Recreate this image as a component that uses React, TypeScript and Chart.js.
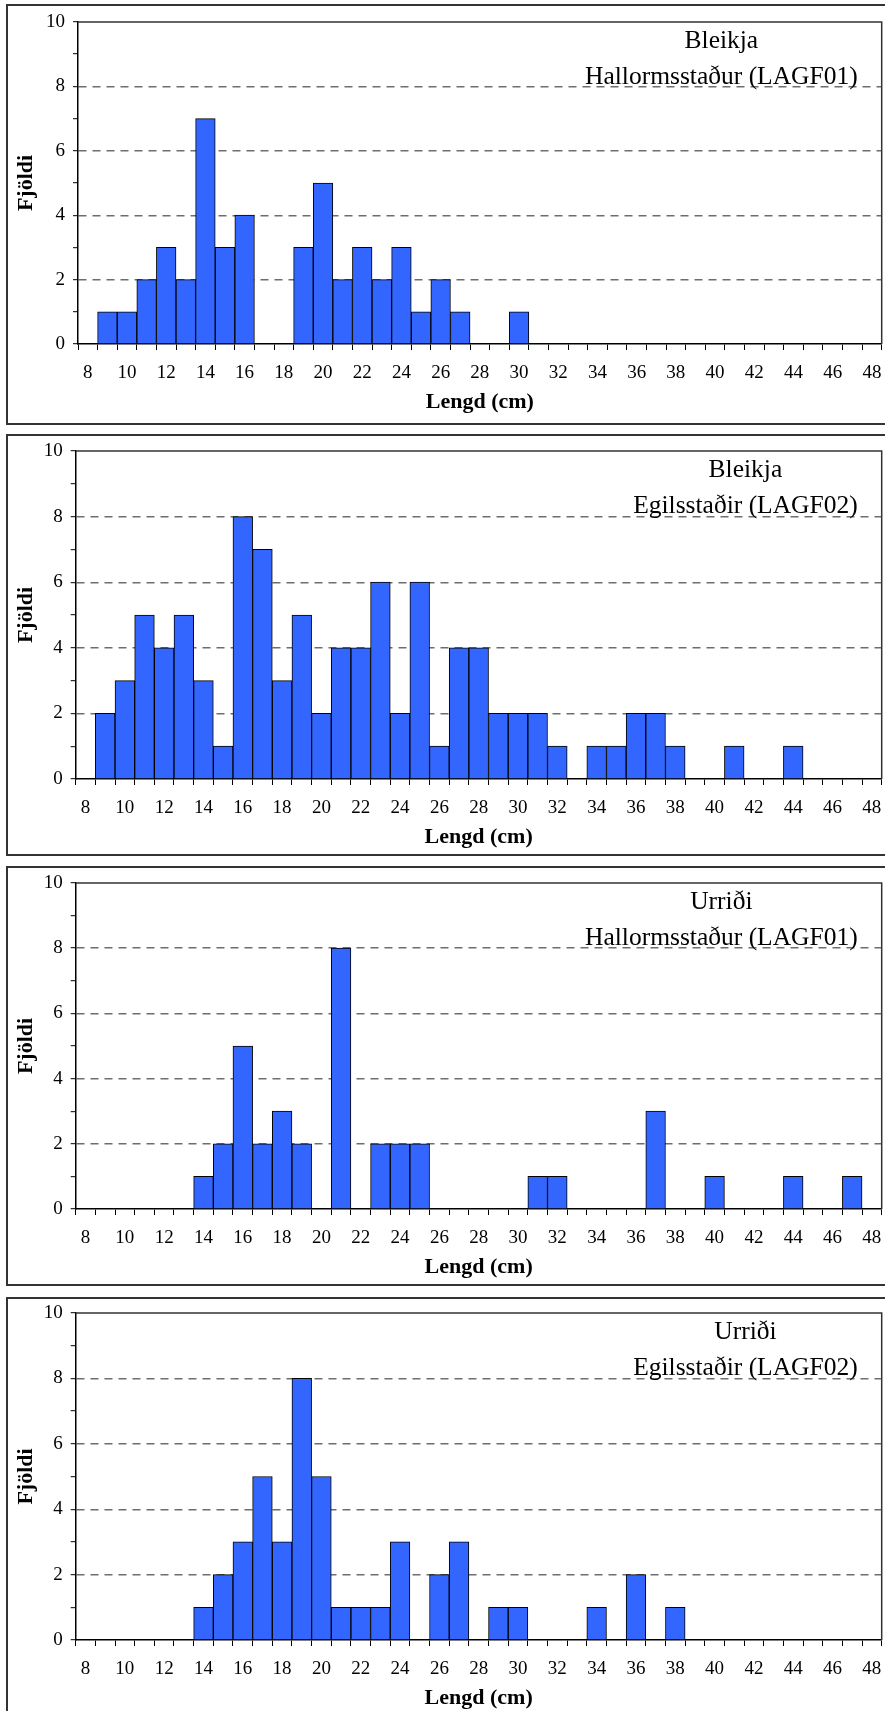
import React, { useEffect, useRef } from 'react';
import { Chart, registerables } from 'chart.js';

Chart.register(...registerables);

// ---- data ----
const lengthCategories = [
  '8', '9', '10', '11', '12', '13', '14', '15', '16', '17', '18', '19', '20', '21',
  '22', '23', '24', '25', '26', '27', '28', '29', '30', '31', '32', '33', '34', '35',
  '36', '37', '38', '39', '40', '41', '42', '43', '44', '45', '46', '47', '48',
];

// counts per length class (8 ... 48 cm)
const bleikjaHallormsstadur = [
  0, 1, 1, 2, 3, 2, 7, 3, 4, 0, 0, 3, 5, 2, 3, 2, 3, 1, 2, 1, 0, 0, 1,
  0, 0, 0, 0, 0, 0, 0, 0, 0, 0, 0, 0, 0, 0, 0, 0, 0, 0,
];
const bleikjaEgilsstadir = [
  0, 2, 3, 5, 4, 5, 3, 1, 8, 7, 3, 5, 2, 4, 4, 6, 2, 6, 1, 4, 4, 2, 2,
  2, 1, 0, 1, 1, 2, 2, 1, 0, 0, 1, 0, 0, 1, 0, 0, 0, 0,
];
const urridiHallormsstadur = [
  0, 0, 0, 0, 0, 0, 1, 2, 5, 2, 3, 2, 0, 8, 0, 2, 2, 2, 0, 0, 0, 0, 0,
  1, 1, 0, 0, 0, 0, 3, 0, 0, 1, 0, 0, 0, 1, 0, 0, 1, 0,
];
const urridiEgilsstadir = [
  0, 0, 0, 0, 0, 0, 1, 2, 3, 5, 3, 8, 5, 1, 1, 1, 3, 0, 2, 3, 0, 1, 1,
  0, 0, 0, 1, 0, 2, 0, 1, 0, 0, 0, 0, 0, 0, 0, 0, 0, 0,
];

const speciesNames = ['Bleikja', 'Bleikja', 'Urriði', 'Urriði'];
const siteNames = [
  'Hallormsstaður (LAGF01)',
  'Egilsstaðir (LAGF02)',
  'Hallormsstaður (LAGF01)',
  'Egilsstaðir (LAGF02)',
];
const seriesValues = [bleikjaHallormsstadur, bleikjaEgilsstadir, urridiHallormsstadur, urridiEgilsstadir];

const xAxisTitle = 'Lengd (cm)';
const yAxisTitle = 'Fjöldi';

// ---- layout (page pixels) ----
const PAGE_W = 885;
const PLOT_RIGHT = 881.7;
const TOP_PAD = 16;
const X_AXIS_H = 80;
const panelLayouts = [
  { boxTop: 4, boxHeight: 421, plotTop: 21.7, plotBottom: 344, plotLeft: 78 },
  { boxTop: 434.3, boxHeight: 421.4, plotTop: 450.7, plotBottom: 778.3, plotLeft: 75.7 },
  { boxTop: 866, boxHeight: 420, plotTop: 882.7, plotBottom: 1209, plotLeft: 75.7 },
  { boxTop: 1296.7, boxHeight: 421, plotTop: 1313.3, plotBottom: 1640, plotLeft: 75.7 },
];

const SERIF = '"Liberation Serif", "Times New Roman", Times, serif';
const BAR_BLUE = '#3366FF';

const decorPlugin = {
  id: 'panelDecor',
  afterDatasetsDraw(chart: any, _args: any, opts: any) {
    const { ctx, chartArea: a } = chart;
    ctx.save();
    ctx.strokeStyle = '#333';
    ctx.lineWidth = 1.5;
    ctx.beginPath();
    ctx.moveTo(a.left, a.top);
    ctx.lineTo(a.right, a.top);
    ctx.lineTo(a.right, a.bottom);
    ctx.stroke();

    const lines: string[] = opts.lines || [];
    ctx.font = `25.5px ${SERIF}`;
    ctx.fillStyle = '#000';
    ctx.textAlign = 'center';
    ctx.textBaseline = 'alphabetic';
    const w = ctx.measureText(lines[1] || '').width;
    const cx = a.right - 24 - w / 2;
    if (lines[0]) ctx.fillText(lines[0], cx, a.top + 26);
    if (lines[1]) ctx.fillText(lines[1], cx, a.top + 61.5);
    ctx.restore();
  },
};

type PanelProps = { index: number };

function Histogram({ index }: PanelProps) {
  const ref = useRef<HTMLCanvasElement>(null);
  const lay = panelLayouts[index];
  const canvasTop = lay.plotTop - TOP_PAD;
  const canvasHeight = Math.round(TOP_PAD + (lay.plotBottom - lay.plotTop) + X_AXIS_H);

  useEffect(() => {
    if (!ref.current) return;
    const chart = new Chart(ref.current, {
      type: 'bar',
      data: {
        labels: lengthCategories,
        datasets: [
          {
            data: seriesValues[index],
            backgroundColor: BAR_BLUE,
            borderColor: '#000',
            borderWidth: 1,
            barPercentage: 1,
            categoryPercentage: 1,
          },
        ],
      },
      options: {
        responsive: false,
        animation: false,
        devicePixelRatio: 1,
        layout: { padding: { left: 0, right: PAGE_W - PLOT_RIGHT, top: TOP_PAD, bottom: 0 } },
        plugins: {
          legend: { display: false },
          tooltip: { enabled: false },
          panelDecor: { lines: [speciesNames[index], siteNames[index]] },
        } as any,
        scales: {
          x: {
            type: 'category',
            offset: true,
            grid: {
              display: true,
              offset: true,
              drawOnChartArea: false,
              drawTicks: true,
              tickLength: 6,
              tickColor: '#000',
              tickWidth: 1,
              color: '#000',
            },
            border: { display: true, color: '#000', width: 1.5 },
            ticks: {
              autoSkip: false,
              maxRotation: 0,
              minRotation: 0,
              padding: 12,
              color: '#000',
              font: { family: SERIF, size: 19 },
              callback(this: any, value: any) {
                const l = this.getLabelForValue(value);
                return Number(l) % 2 === 0 ? l : '';
              },
            },
            title: {
              display: true,
              text: xAxisTitle,
              color: '#000',
              font: { family: SERIF, size: 22, weight: 'bold' },
              padding: { top: 0, bottom: 8 },
            },
            afterFit(scale: any) {
              scale.height = X_AXIS_H;
              scale.paddingLeft = 0;
              scale.paddingRight = 0;
            },
          },
          y: {
            min: 0,
            max: 10,
            grid: {
              color: (c: any) =>
                c.tick && c.tick.value % 2 === 0 && c.tick.value > 0 && c.tick.value < 10
                  ? '#6e6e6e'
                  : 'rgba(0,0,0,0)',
              lineWidth: 1.4,
              drawTicks: true,
              tickColor: '#000',
              tickLength: 5,
              tickWidth: 1,
            },
            border: { display: true, color: '#000', width: 1.5, dash: [8, 6] },
            ticks: {
              stepSize: 1,
              autoSkip: false,
              padding: 8,
              color: '#000',
              font: { family: SERIF, size: 19 },
              callback: (v: any) => (Number(v) % 2 === 0 ? String(v) : ''),
            },
            title: {
              display: true,
              text: yAxisTitle,
              color: '#000',
              font: { family: SERIF, size: 22, weight: 'bold' },
              padding: { top: 13, bottom: 0 },
            },
            afterFit(scale: any) {
              scale.width = lay.plotLeft;
              scale.paddingTop = 0;
              scale.paddingBottom = 0;
            },
          },
        } as any,
      },
      plugins: [decorPlugin as any],
    });
    return () => chart.destroy();
  }, [index]);

  return (
    <canvas
      ref={ref}
      width={PAGE_W}
      height={canvasHeight}
      style={{ position: 'absolute', left: 0, top: canvasTop, width: PAGE_W, height: canvasHeight }}
    />
  );
}

export default function App() {
  return (
    <div
      style={{
        position: 'absolute',
        left: 0,
        top: 0,
        width: PAGE_W,
        height: 1711,
        overflow: 'hidden',
        background: '#fff',
      }}
    >
      {panelLayouts.map((lay, i) => (
        <React.Fragment key={i}>
          <div
            style={{
              position: 'absolute',
              left: 6,
              top: lay.boxTop,
              width: 900,
              height: lay.boxHeight,
              border: '2px solid #333',
              boxSizing: 'border-box',
            }}
          />
          <Histogram index={i} />
        </React.Fragment>
      ))}
    </div>
  );
}
